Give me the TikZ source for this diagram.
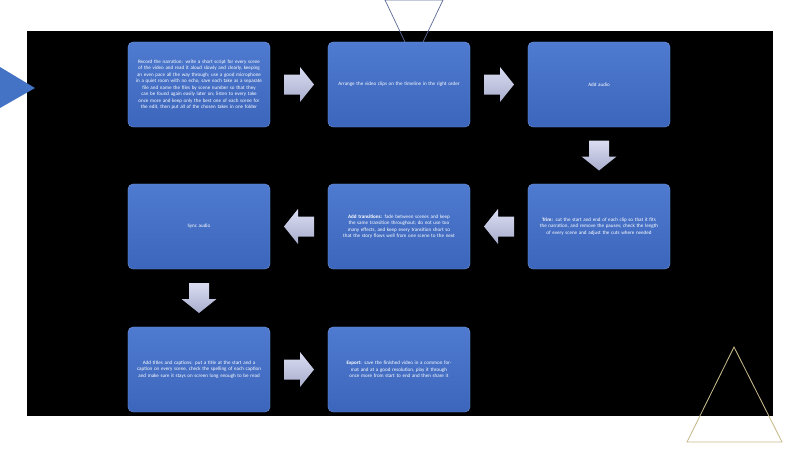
\documentclass[tikz,border=0pt]{standalone}
\usepackage{fontspec}
\setmainfont{Carlito}
\usetikzlibrary{calc}
\definecolor{boxtop}{RGB}{78,122,208}
\definecolor{boxbot}{RGB}{60,102,188}
\definecolor{arrtop}{RGB}{218,221,242}
\definecolor{arrbot}{RGB}{168,173,204}
\definecolor{triblue}{RGB}{68,114,196}
\definecolor{trigrey}{RGB}{90,105,150}
\definecolor{trigold}{RGB}{200,185,140}
\tikzset{
  stepbox/.style={rectangle, rounded corners=0.125cm, minimum width=3.55cm, minimum height=2.125cm,
    top color=boxtop, bottom color=boxbot, draw=boxtop!80!white, line width=0.3pt,
    text=white, align=center, text width=3.3cm, inner sep=0pt,
    font=\fontsize{3.6}{4.6}\selectfont},
  flowarrow/.style={top color=arrtop, bottom color=arrbot, draw=none}
}
\newcommand{\flowarrowshape}[2]{%
  \fill[flowarrow, shift={(#1)}, rotate=#2]
    (-15,-10) -- (1,-10) -- (1,-17.5) -- (15,0) -- (1,17.5) -- (1,10) -- (-15,10) -- cycle;}
\begin{document}
\begin{tikzpicture}[x=0.025cm,y=-0.025cm]
\useasboundingbox (0,0) rectangle (800,449);
\fill[white] (0,0) rectangle (800,449);
\fill[black] (27,31) rectangle (773,416);
% decorative triangles
\fill[triblue] (0,67) -- (35,88) -- (0,108) -- cycle;
\draw[trigrey, line width=0.5pt] (385,0) -- (414,61) -- (443,0) -- cycle;
\draw[trigold, line width=0.6pt] (687,442) -- (734,347) -- (782,442) -- cycle;
% boxes
\node[stepbox] (b1) at (199,84.5) {Record the narration: write a short script for every scene of the video and read it aloud slowly and clearly, keeping an even pace all the way through; use a good microphone in a quiet room with no echo, save each take as a separate file and name the files by scene number so that they can be found again easily later on; listen to every take once more and keep only the best one of each scene for the edit, then put all of the chosen takes in one folder};
\node[stepbox] (b2) at (399,84.5) {Arrange the video clips on the timeline in the right order};
\node[stepbox] (b3) at (599,84.5) {Add audio};
\node[stepbox] (b6) at (599,226.5) {\textbf{Trim:} cut the start and end of each clip so that it fits the narration, and remove the pauses; check the length of every scene and adjust the cuts where needed};
\node[stepbox] (b5) at (399,226.5) {\textbf{Add transitions:} fade between scenes and keep the same transition throughout; do not use too many effects, and keep every transition short so that the story flows well from one scene to the next};
\node[stepbox] (b4) at (199,226.5) {Sync audio};
\node[stepbox] (b7) at (199,369.5) {Add titles and captions: put a title at the start and a caption on every scene, check the spelling of each caption and make sure it stays on screen long enough to be read};
\node[stepbox] (b8) at (399,369.5) {\textbf{Export:} save the finished video in a common format and at a good resolution, play it through once more from start to end and then share it};
% arrows
\coordinate (a12) at ($(b1.east)!0.5!(b2.west)$);
\coordinate (a23) at ($(b2.east)!0.5!(b3.west)$);
\coordinate (a36) at ($(b3.south)!0.5!(b6.north)$);
\coordinate (a65) at ($(b6.west)!0.5!(b5.east)$);
\coordinate (a54) at ($(b5.west)!0.5!(b4.east)$);
\coordinate (a47) at ($(b4.south)!0.5!(b7.north)$);
\coordinate (a78) at ($(b7.east)!0.5!(b8.west)$);
\flowarrowshape{a12}{0}
\flowarrowshape{a23}{0}
\flowarrowshape{a36}{-90}
\flowarrowshape{a65}{180}
\flowarrowshape{a54}{180}
\flowarrowshape{a47}{-90}
\flowarrowshape{a78}{0}
\end{tikzpicture}
\end{document}
